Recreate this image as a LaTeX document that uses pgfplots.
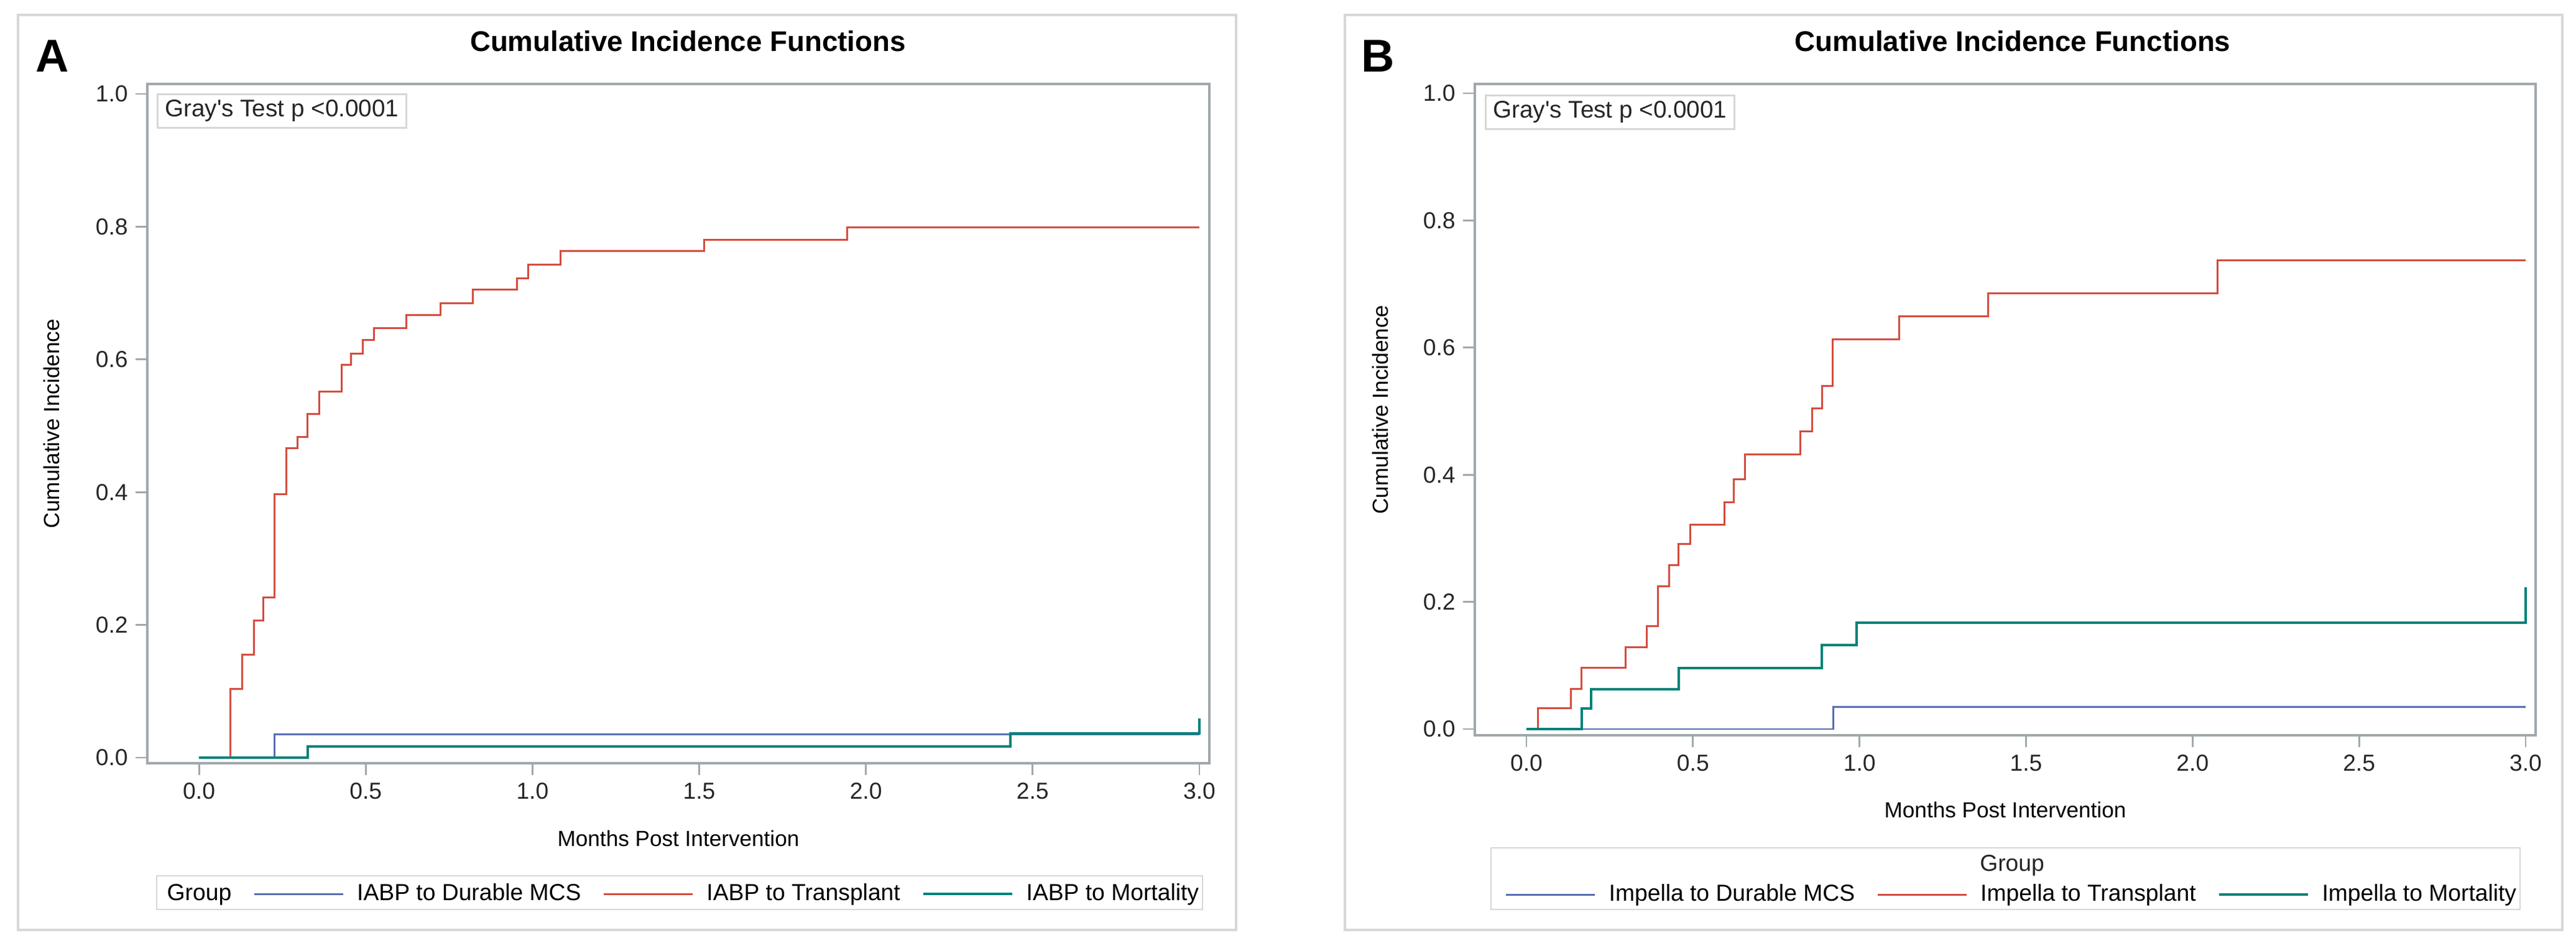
\documentclass[border=0pt]{standalone}
\usepackage{fontspec}
\setmainfont{Liberation Sans}
\usepackage{pgfplots}
\pgfplotsset{compat=1.18}

\definecolor{cblue}{RGB}{88,108,178}
\definecolor{cred}{RGB}{212,76,62}
\definecolor{cteal}{RGB}{0,130,119}
\definecolor{axisgray}{RGB}{160,168,172}
\definecolor{boxgray}{RGB}{215,215,215}

\newcommand{\lblfont}{\fontsize{11}{13}\selectfont}
\newcommand{\smfont}{\fontsize{10.6}{12.5}\selectfont}

\pgfplotsset{cif/.style={
  scale only axis, anchor=south west,
  xmin=-0.155, xmax=3.03,
  xtick={0,0.5,1,1.5,2,2.5,3}, ytick={0,0.2,0.4,0.6,0.8,1},
  xticklabel style={/pgf/number format/fixed,/pgf/number format/fixed zerofill,/pgf/number format/precision=1},
  yticklabel style={/pgf/number format/fixed,/pgf/number format/fixed zerofill,/pgf/number format/precision=1},
  /pgf/number format/assume math mode=true,
  tick pos=left, tick align=outside, major tick length=0.19cm,
  axis line style={axisgray,line width=1.1pt},
  major tick style={axisgray,line width=0.8pt},
  tick label style={font=\smfont, text=black!85},
  label style={font=\lblfont},
  title style={font=\bfseries\fontsize{13}{15}\selectfont},
  xlabel={Months Post Intervention},
  ylabel={Cumulative Incidence},
  legend image code/.code={\draw[##1] (0cm,0cm) -- (1.43cm,0cm);},
  legend style={draw=none, fill=none, inner sep=0pt, font=\smfont,
    nodes={inner sep=0pt},
    /tikz/every odd column/.style={column sep=0.21cm},
    /tikz/every even column/.style={column sep=0.35cm}},
  const plot, no marks,
}}

\begin{document}
\begin{tikzpicture}
\path[use as bounding box] (0,0) rectangle (41.43,15.23);

% panel frames
\draw[boxgray, line width=0.9pt] (0.29,0.28) rectangle (19.88,14.99);
\draw[boxgray, line width=0.9pt] (21.63,0.28) rectangle (41.21,14.99);
\node[font=\bfseries\fontsize{21}{24}\selectfont] at (0.84,14.33) {A};
\node[font=\bfseries\fontsize{21}{24}\selectfont] at (22.16,14.33) {B};

% ---- panel A: IABP
\begin{axis}[cif,
  at={(2.37cm,2.96cm)}, width=17.08cm, height=10.92cm,
  ymin=-0.0084, ymax=1.015,
  title={Cumulative Incidence Functions},
  title style={at={(axis description cs:0.509,1.044)}, anchor=center},
  every axis y label/.style={at={(axis description cs:-0.090,0.5)}, rotate=90, anchor=center},
  every axis x label/.style={at={(axis description cs:0.5,-0.111)}, anchor=center},
  legend columns=4,
  legend style={at={(axis description cs:0,0)}, anchor=west, xshift=0.10cm, yshift=-2.10cm},
]
\addlegendimage{empty legend}
\addlegendentry{Group\hspace{0.33cm}}
\addplot[cblue, line width=0.85pt] table {
0 0
0.226 0.035
3.0 0.035
};
\addlegendentry{IABP to Durable MCS}
\addplot[cred, line width=0.85pt] table {
0 0
0.0945 0.104
0.129 0.155
0.164 0.207
0.193 0.241
0.227 0.397
0.262 0.466
0.296 0.483
0.326 0.518
0.360 0.552
0.427 0.592
0.456 0.609
0.491 0.629
0.525 0.647
0.622 0.667
0.724 0.685
0.821 0.705
0.953 0.722
0.988 0.743
1.085 0.763
1.514 0.780
1.944 0.799
3.0 0.799
};
\addlegendentry{IABP to Transplant}
\addplot[cteal, line width=1.1pt] table {
0 0
0.326 0.017
2.434 0.037
3.0 0.037
3.0 0.059
};
\addlegendentry{IABP to Mortality}
\node[draw=boxgray, line width=0.8pt, anchor=north west, inner xsep=0.12cm,
  inner ysep=0pt, minimum height=0.54cm, font=\lblfont, text=black!85]
  at (rel axis cs:0,1) [xshift=0.15cm, yshift=-0.15cm] {Gray\textquotesingle s Test p <0.0001};
\end{axis}
\draw[boxgray, line width=0.8pt] (2.52,0.61) rectangle (19.34,1.15);

% ---- panel B: Impella
\begin{axis}[cif,
  at={(23.72cm,3.41cm)}, width=17.06cm, height=10.47cm,
  ymin=-0.0098, ymax=1.0147,
  title={Cumulative Incidence Functions},
  title style={at={(axis description cs:0.507,1.046)}, anchor=center},
  every axis y label/.style={at={(axis description cs:-0.089,0.5)}, rotate=90, anchor=center},
  every axis x label/.style={at={(axis description cs:0.5,-0.1146)}, anchor=center},
  legend columns=3,
  legend style={at={(axis description cs:0,0)}, anchor=west, xshift=0.48cm, yshift=-2.56cm},
]
\addplot[cblue, line width=0.85pt] table {
0 0
0.921 0.035
3.0 0.035
};
\addlegendentry{Impella to Durable MCS}
\addplot[cred, line width=0.85pt] table {
0 0
0.034 0.033
0.133 0.063
0.166 0.096
0.297 0.129
0.361 0.162
0.395 0.225
0.428 0.258
0.457 0.291
0.491 0.321
0.594 0.357
0.623 0.393
0.657 0.432
0.822 0.468
0.857 0.504
0.888 0.540
0.920 0.613
1.120 0.649
1.386 0.685
2.075 0.737
3.0 0.737
};
\addlegendentry{Impella to Transplant}
\addplot[cteal, line width=1.1pt] table {
0 0
0.166 0.032
0.194 0.063
0.458 0.096
0.886 0.132
0.991 0.167
3.0 0.167
3.0 0.223
};
\addlegendentry{Impella to Mortality}
\node[draw=boxgray, line width=0.8pt, anchor=north west, inner xsep=0.12cm,
  inner ysep=0pt, minimum height=0.54cm, font=\lblfont, text=black!85]
  at (rel axis cs:0,1) [xshift=0.16cm, yshift=-0.17cm] {Gray\textquotesingle s Test p <0.0001};
\end{axis}
\draw[boxgray, line width=0.8pt] (23.98,0.61) rectangle (40.53,1.60);
\node[font=\smfont, text=black!85] at (32.36,1.32) {Group};
\end{tikzpicture}
\end{document}
